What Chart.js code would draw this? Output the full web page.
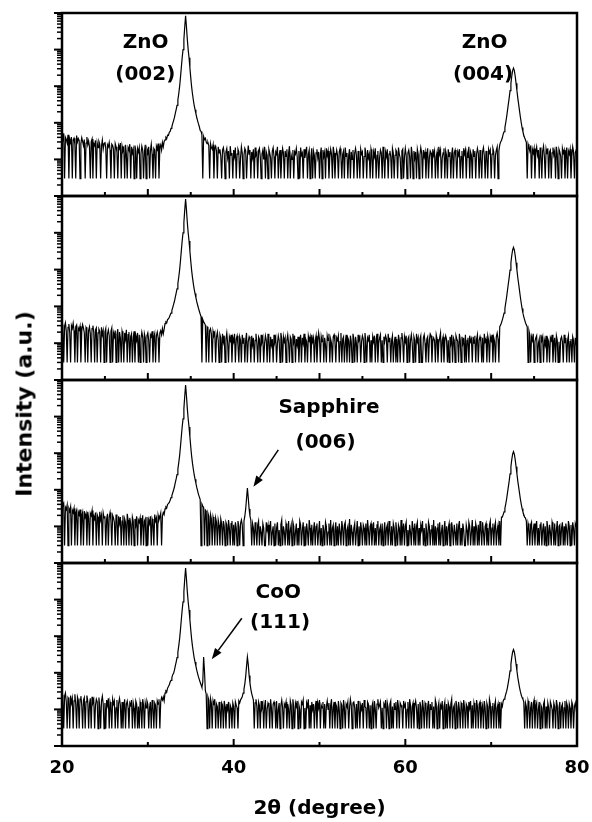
<!DOCTYPE html>
<html>
<head>
<meta charset="utf-8">
<script src="https://cdn.jsdelivr.net/npm/chart.js@4.4.0/dist/chart.umd.min.js"></script>
<style>
    body { margin: 0; background: #fff; }
    #figure { position: relative; width: 592px; height: 822px; overflow: hidden; }
    #figure canvas { position: absolute; left: 0; display: block; }
    .ytitle {
        position: absolute; left: 24px; top: 404px;
        transform: translate(-50%, -50%) rotate(-90deg);
        font: bold 22px "DejaVu Sans", sans-serif; color: #000; white-space: nowrap;
    }
</style>
</head>
<body>
<div id="figure">
    <canvas id="panel1"></canvas>
    <canvas id="panel2"></canvas>
    <canvas id="panel3"></canvas>
    <canvas id="panel4"></canvas>
    <div class="ytitle">Intensity (a.u.)</div>
</div>
<script>
// scan grid: 20..80 deg, 0.1 deg step
const ANGLE_START = 20, ANGLE_STEP = 0.1;

// counts, one row = 1 degree (x.0 .. x.9)
const intensity1 = [
    44, 31, 52, 3, 40, 35, 28, 47, 3, 36,
    29, 41, 3, 34, 38, 26, 3, 45, 30, 37,
    33, 3, 27, 39, 31, 24, 35, 3, 28, 41,
    25, 32, 22, 3, 30, 36, 3, 27, 24, 33,
    3, 28, 21, 31, 26, 3, 23, 34, 19, 27,
    30, 20, 3, 25, 22, 29, 18, 3, 26, 24,
    19, 3, 27, 22, 16, 3, 24, 20, 28, 3,
    23, 17, 20, 3, 25, 14, 3, 21, 18, 26,
    3, 22, 15, 19, 3, 24, 17, 3, 20, 16,
    21, 3, 14, 23, 18, 3, 16, 25, 3, 19,
    15, 22, 3, 17, 26, 14, 3, 20, 18, 3,
    23, 19, 27, 3, 21, 25, 18, 29, 22, 31,
    34, 40, 37, 46, 45, 55, 58, 70, 78, 96,
    115, 140, 180, 230, 300, 420, 620, 970, 1720, 3220,
    6000, 10000, 19000, 42000, 84000, 42000, 19000, 10000, 6000, 3200,
    1720, 970, 620, 420, 300, 228, 178, 140, 113, 93,
    78, 62, 58, 47, 3, 42, 35, 38, 30, 27,
    29, 24, 3, 27, 21, 19, 25, 3, 20, 23,
    17, 3, 22, 15, 19, 12, 3, 18, 21, 14,
    3, 16, 20, 11, 17, 3, 23, 13, 15, 3,
    18, 12, 21, 3, 14, 19, 16, 3, 11, 22,
    15, 3, 13, 20, 17, 3, 12, 24, 14, 18,
    3, 16, 11, 19, 3, 21, 13, 15, 3, 17,
    20, 12, 3, 14, 18, 10, 22, 3, 16, 13,
    3, 19, 15, 11, 3, 17, 21, 12, 3, 16,
    14, 22, 3, 13, 18, 3, 11, 20, 15, 3,
    17, 12, 19, 3, 15, 23, 3, 13, 10, 18,
    3, 16, 14, 20, 12, 3, 17, 3, 21, 13,
    15, 3, 19, 11, 16, 22, 3, 14, 18, 3,
    12, 20, 3, 17, 13, 3, 15, 19, 11, 16,
    3, 14, 21, 3, 18, 12, 16, 3, 20, 13,
    17, 3, 11, 19, 14, 3, 22, 15, 3, 12,
    18, 13, 3, 16, 20, 11, 3, 14, 17, 3,
    21, 12, 15, 3, 13, 19, 3, 16, 10, 18,
    3, 15, 20, 13, 3, 17, 12, 3, 19, 14,
    16, 3, 12, 21, 15, 3, 18, 11, 14, 3,
    19, 14, 3, 16, 12, 20, 3, 13, 17, 3,
    11, 18, 15, 3, 22, 13, 3, 16, 12, 19,
    3, 14, 17, 12, 3, 20, 15, 3, 13, 18,
    16, 3, 21, 14, 11, 3, 17, 19, 3, 12,
    20, 13, 3, 15, 18, 12, 3, 22, 14, 3,
    17, 11, 16, 3, 19, 14, 3, 13, 21, 15,
    3, 18, 12, 16, 3, 14, 20, 3, 11, 17,
    15, 3, 19, 13, 17, 3, 12, 16, 3, 22,
    14, 18, 3, 11, 15, 20, 3, 17, 13, 3,
    19, 12, 16, 3, 14, 21, 3, 15, 18, 11,
    3, 16, 13, 19, 3, 12, 17, 3, 20, 14,
    18, 3, 15, 11, 22, 3, 16, 13, 3, 19,
    12, 17, 3, 14, 20, 15, 3, 18, 11, 3,
    16, 21, 13, 3, 17, 12, 3, 19, 15, 18,
    3, 14, 20, 16, 3, 13, 18, 22, 3, 17,
    25, 30, 33, 39, 49, 57, 74, 102, 145, 215,
    325, 480, 760, 1195, 1875, 2655, 3115, 2655, 1875, 1195,
    760, 480, 325, 215, 145, 102, 74, 57, 46, 39,
    34, 29, 3, 26, 21, 17, 24, 3, 19, 15,
    20, 3, 16, 22, 13, 18, 3, 21, 15, 3,
    17, 23, 12, 3, 19, 14, 20, 3, 16, 18,
    3, 15, 21, 13, 17, 3, 22, 14, 3, 19,
    16, 12, 3, 20, 15, 18, 3, 13, 21, 3,
    17, 14, 19, 3, 12, 22, 16, 3, 15, 18,
    14
];

const intensity2 = [
    32, 24, 3, 29, 36, 21, 3, 27, 33, 19,
    3, 30, 25, 35, 22, 3, 28, 31, 3, 26,
    23, 29, 3, 21, 32, 26, 19, 3, 27, 24,
    3, 22, 28, 18, 3, 25, 30, 20, 3, 23,
    26, 3, 19, 24, 21, 3, 27, 17, 22, 3,
    20, 25, 3, 18, 23, 16, 3, 21, 26, 3,
    19, 15, 22, 3, 17, 24, 3, 20, 14, 3,
    21, 16, 3, 19, 13, 23, 3, 17, 20, 3,
    15, 18, 3, 14, 21, 3, 16, 12, 19, 3,
    17, 3, 13, 20, 15, 3, 18, 14, 3, 16,
    19, 12, 3, 17, 15, 21, 3, 14, 18, 3,
    16, 20, 14, 3, 19, 22, 17, 25, 18, 24,
    34, 38, 36, 44, 46, 51, 58, 66, 78, 93,
    113, 138, 178, 228, 298, 418, 618, 968, 1718, 3218,
    6000, 10000, 19000, 42000, 83000, 42000, 19000, 10000, 6000, 3200,
    1715, 965, 615, 415, 295, 224, 174, 134, 109, 89,
    74, 62, 53, 3, 44, 38, 35, 31, 3, 28,
    26, 3, 22, 25, 18, 3, 21, 16, 19, 3,
    15, 20, 12, 3, 17, 14, 3, 18, 11, 16,
    3, 13, 19, 10, 3, 15, 12, 17, 3, 14,
    11, 18, 3, 13, 16, 9, 3, 15, 12, 3,
    17, 10, 14, 3, 12, 19, 3, 11, 15, 13,
    3, 16, 9, 14, 3, 12, 18, 10, 3, 15,
    13, 3, 17, 11, 14, 3, 10, 16, 12, 3,
    18, 12, 3, 15, 9, 13, 3, 17, 11, 14,
    3, 10, 16, 12, 3, 19, 13, 3, 15, 11,
    14, 3, 12, 17, 10, 3, 15, 13, 3, 18,
    11, 16, 3, 13, 9, 15, 3, 12, 17, 3,
    14, 10, 18, 3, 13, 11, 3, 16, 12, 15,
    3, 17, 11, 14, 3, 12, 16, 3, 10, 19,
    13, 3, 15, 11, 17, 3, 14, 9, 3, 16,
    12, 18, 3, 13, 10, 3, 15, 17, 11, 3,
    14, 12, 16, 3, 11, 19, 3, 13, 15, 3,
    10, 17, 3, 14, 12, 3, 16, 11, 3, 18,
    13, 3, 15, 10, 3, 17, 12, 14, 3, 11,
    16, 13, 3, 19, 11, 3, 14, 12, 17, 3,
    12, 3, 15, 11, 16, 3, 13, 18, 3, 10,
    14, 17, 3, 12, 3, 15, 11, 16, 13, 3,
    18, 11, 14, 3, 12, 16, 3, 10, 15, 3,
    13, 3, 17, 12, 3, 14, 19, 11, 3, 15,
    11, 16, 3, 13, 15, 3, 12, 17, 10, 3,
    15, 12, 3, 18, 11, 14, 3, 13, 16, 3,
    3, 14, 17, 10, 3, 13, 15, 3, 12, 18,
    16, 3, 11, 14, 12, 3, 17, 13, 3, 10,
    14, 19, 3, 12, 15, 3, 11, 16, 13, 3,
    12, 3, 15, 10, 17, 3, 14, 12, 3, 16,
    13, 11, 3, 18, 12, 3, 15, 10, 14, 3,
    17, 3, 12, 14, 3, 16, 11, 13, 3, 15,
    10, 16, 3, 13, 17, 3, 12, 15, 11, 3,
    14, 3, 18, 11, 13, 3, 16, 12, 3, 15,
    12, 17, 3, 14, 11, 3, 15, 19, 13, 3,
    28, 31, 36, 43, 52, 66, 88, 124, 180, 272,
    412, 612, 972, 1532, 2412, 3412, 4012, 3412, 2412, 1532,
    972, 612, 412, 272, 180, 124, 88, 66, 52, 43,
    36, 31, 28, 3, 22, 17, 3, 15, 12, 18,
    3, 11, 14, 16, 3, 10, 13, 3, 17, 12,
    15, 3, 12, 9, 16, 3, 13, 11, 3, 14,
    12, 17, 3, 10, 14, 3, 16, 12, 3, 11,
    3, 13, 15, 11, 3, 17, 10, 14, 3, 12,
    16, 3, 11, 13, 3, 15, 12, 3, 14, 10,
    12
];

const intensity3 = [
    48, 36, 41, 3, 33, 29, 38, 3, 31, 26,
    34, 3, 28, 24, 31, 3, 22, 27, 3, 25,
    21, 29, 3, 19, 24, 3, 26, 18, 22, 3,
    25, 17, 3, 23, 20, 27, 3, 19, 16, 24,
    3, 21, 18, 3, 25, 15, 20, 3, 23, 17,
    19, 3, 16, 22, 3, 18, 24, 14, 3, 20,
    17, 13, 3, 21, 15, 3, 19, 12, 18, 3,
    14, 20, 3, 16, 13, 3, 22, 15, 3, 17,
    12, 3, 18, 14, 3, 16, 11, 19, 3, 15,
    13, 17, 3, 12, 20, 3, 14, 16, 3, 18,
    3, 15, 12, 19, 3, 16, 13, 3, 21, 14,
    17, 3, 20, 15, 18, 23, 3, 19, 24, 21,
    30, 34, 32, 40, 42, 45, 52, 61, 70, 83,
    99, 121, 156, 198, 261, 366, 546, 846, 1496, 2816,
    5200, 8700, 16500, 36500, 73000, 36500, 16500, 8700, 5200, 2800,
    1495, 845, 535, 365, 258, 195, 151, 116, 93, 75,
    64, 54, 3, 41, 36, 33, 3, 28, 26, 3,
    23, 19, 3, 21, 16, 3, 18, 14, 3, 17,
    13, 3, 15, 11, 3, 16, 12, 3, 14, 10,
    3, 13, 11, 3, 15, 9, 3, 12, 14, 3,
    11, 3, 13, 9, 3, 14, 10, 3, 12, 15,
    11, 3, 14, 19, 30, 58, 112, 60, 30, 19,
    15, 3, 12, 9, 3, 13, 8, 3, 11, 14,
    3, 10, 7, 3, 12, 9, 3, 3, 13, 8,
    11, 3, 9, 14, 3, 7, 10, 3, 12, 3,
    9, 13, 3, 8, 3, 11, 15, 3, 10, 7,
    3, 12, 9, 3, 14, 3, 8, 11, 3, 13,
    10, 3, 7, 12, 3, 9, 3, 14, 11, 3,
    8, 13, 3, 10, 3, 12, 7, 3, 15, 9,
    3, 11, 3, 8, 13, 3, 10, 12, 3, 7,
    14, 3, 9, 3, 11, 8, 3, 13, 10, 3,
    7, 12, 3, 15, 3, 9, 11, 3, 8, 13,
    3, 10, 3, 12, 7, 3, 14, 9, 3, 11,
    13, 3, 8, 10, 3, 16, 3, 11, 7, 3,
    9, 12, 3, 7, 14, 3, 10, 3, 13, 8,
    3, 11, 9, 3, 12, 3, 15, 8, 3, 10,
    12, 3, 7, 13, 3, 9, 3, 11, 14, 3,
    8, 10, 3, 12, 3, 7, 13, 3, 9, 11,
    3, 14, 8, 3, 10, 3, 12, 9, 3, 13,
    7, 3, 11, 9, 3, 15, 3, 8, 12, 3,
    10, 13, 3, 8, 3, 11, 7, 3, 14, 9,
    3, 12, 3, 10, 13, 3, 9, 3, 11, 8,
    14, 3, 9, 3, 12, 7, 3, 13, 10, 3,
    8, 11, 3, 15, 3, 10, 3, 9, 12, 3,
    13, 3, 7, 11, 3, 8, 14, 3, 10, 3,
    9, 12, 3, 3, 13, 8, 3, 11, 7, 3,
    12, 3, 10, 14, 3, 9, 3, 12, 8, 3,
    3, 11, 8, 3, 13, 10, 3, 7, 15, 3,
    10, 3, 12, 9, 3, 11, 3, 14, 8, 3,
    13, 7, 3, 10, 12, 3, 9, 3, 11, 14,
    3, 9, 12, 3, 10, 13, 3, 8, 11, 3,
    14, 3, 18, 18, 21, 25, 31, 41, 56, 82,
    120, 175, 274, 428, 670, 945, 1110, 945, 670, 428,
    274, 175, 120, 82, 56, 41, 31, 25, 21, 18,
    17, 14, 3, 12, 9, 3, 11, 13, 3, 8,
    12, 3, 10, 14, 3, 9, 3, 11, 13, 3,
    8, 12, 3, 10, 3, 14, 9, 3, 11, 7,
    3, 13, 10, 3, 12, 3, 8, 14, 3, 10,
    11, 3, 9, 13, 3, 10, 3, 12, 8, 3,
    14, 10, 3, 11, 3, 13, 9, 3, 12, 10,
    10
];

const intensity4 = [
    25, 18, 3, 23, 28, 16, 3, 21, 19, 3,
    24, 15, 20, 3, 17, 26, 14, 3, 22, 18,
    3, 19, 23, 13, 3, 18, 21, 3, 16, 24,
    17, 3, 14, 20, 3, 22, 15, 18, 3, 13,
    19, 16, 3, 21, 12, 3, 17, 23, 14, 3,
    15, 3, 18, 13, 20, 3, 16, 12, 3, 19,
    14, 17, 3, 11, 18, 3, 15, 20, 13, 3,
    16, 3, 12, 19, 3, 14, 17, 11, 3, 15,
    13, 18, 3, 15, 11, 3, 17, 14, 3, 12,
    3, 16, 12, 3, 19, 13, 3, 15, 11, 17,
    14, 3, 11, 16, 3, 18, 12, 3, 15, 13,
    3, 17, 14, 19, 3, 16, 21, 18, 22, 17,
    28, 32, 30, 38, 42, 47, 56, 62, 74, 89,
    97, 119, 154, 196, 259, 364, 544, 844, 1494, 2814,
    5200, 8700, 16500, 36500, 73000, 36500, 16500, 8700, 5200, 2800,
    1494, 844, 534, 364, 257, 196, 152, 118, 95, 77,
    65, 55, 47, 40, 55, 270, 110, 33, 26, 3,
    22, 18, 3, 20, 15, 3, 17, 13, 19, 3,
    14, 12, 3, 16, 11, 3, 15, 13, 3, 17,
    12, 3, 14, 10, 16, 3, 13, 11, 3, 15,
    12, 3, 16, 13, 11, 3, 17, 15, 18, 20,
    22, 28, 36, 50, 80, 150, 270, 170, 85, 52,
    36, 27, 22, 18, 3, 15, 19, 12, 3, 16,
    13, 3, 17, 11, 14, 3, 12, 18, 3, 10,
    15, 13, 3, 19, 11, 3, 14, 16, 12, 3,
    17, 3, 10, 15, 3, 13, 18, 11, 3, 14,
    12, 16, 3, 14, 10, 3, 17, 13, 3, 19,
    11, 3, 15, 12, 17, 3, 13, 10, 3, 16,
    14, 18, 3, 11, 3, 15, 12, 19, 3, 13,
    3, 16, 10, 14, 3, 12, 17, 3, 15, 11,
    18, 3, 13, 11, 16, 3, 14, 3, 12, 17,
    10, 15, 3, 13, 19, 3, 11, 16, 3, 14,
    12, 3, 17, 10, 3, 15, 13, 3, 18, 11,
    3, 14, 12, 16, 3, 11, 19, 13, 3, 15,
    16, 11, 3, 14, 3, 17, 12, 3, 13, 10,
    15, 3, 18, 12, 11, 3, 16, 14, 3, 13,
    3, 12, 15, 3, 17, 10, 3, 14, 19, 11,
    13, 16, 3, 11, 3, 14, 12, 18, 3, 15,
    11, 3, 14, 17, 3, 12, 3, 15, 10, 16,
    3, 18, 12, 3, 15, 13, 11, 3, 17, 12,
    14, 3, 10, 16, 3, 19, 13, 3, 12, 15,
    3, 13, 17, 11, 3, 14, 3, 16, 12, 3,
    18, 11, 3, 15, 13, 3, 12, 17, 3, 14,
    10, 16, 3, 12, 3, 18, 14, 3, 11, 15,
    3, 13, 11, 17, 3, 12, 16, 3, 14, 3,
    15, 12, 3, 14, 19, 3, 11, 13, 3, 17,
    12, 3, 16, 10, 3, 15, 13, 3, 18, 11,
    3, 14, 12, 3, 16, 11, 17, 3, 13, 3,
    15, 11, 3, 18, 12, 3, 14, 16, 3, 10,
    13, 3, 17, 11, 3, 15, 12, 3, 19, 14,
    3, 12, 15, 3, 13, 17, 3, 11, 14, 3,
    16, 3, 14, 12, 17, 19, 21, 26, 31, 40,
    55, 76, 113, 173, 265, 370, 433, 370, 265, 173,
    114, 76, 55, 40, 31, 25, 21, 19, 16, 3,
    15, 12, 3, 17, 13, 3, 11, 16, 3, 14,
    18, 3, 12, 15, 3, 10, 16, 3, 13, 11,
    3, 14, 17, 3, 12, 3, 15, 11, 3, 16,
    13, 10, 3, 15, 12, 3, 18, 13, 3, 11,
    16, 3, 12, 14, 3, 11, 17, 3, 15, 12,
    3, 14, 11, 3, 16, 13, 3, 12, 15, 10,
    13
];

const xLabelTicks = [20, 40, 60, 80];
const upperTicks = [25, 30, 35, 40, 45, 50, 55, 60, 65, 70, 75];
const upperMajor = [30, 40, 50, 60, 70];
const bottomTicks = [30, 40, 50, 60, 70];
const bottomMajor = [40, 60];
const yDecades = [1, 10, 100, 1000, 10000, 100000];

const angles = intensity1.map((_, i) => +(ANGLE_START + i * ANGLE_STEP).toFixed(1));

const FONT = '"DejaVu Sans", sans-serif';

const panels = [
    { id: 'panel1', counts: intensity1, top: 13, bottom: 196,
      notes: [
          { text: 'ZnO', angle: 29.75, level: 15000 },
          { text: '(002)', angle: 29.7, level: 2000 },
          { text: 'ZnO', angle: 69.25, level: 15000 },
          { text: '(004)', angle: 69.05, level: 2000 }
      ], arrows: [] },
    { id: 'panel2', counts: intensity2, top: 196, bottom: 380, notes: [], arrows: [] },
    { id: 'panel3', counts: intensity3, top: 380, bottom: 563,
      notes: [
          { text: 'Sapphire', angle: 51.1, level: 17000 },
          { text: '(006)', angle: 50.7, level: 1950 }
      ],
      arrows: [{ from: [45.2, 1230], to: [42.3, 121] }] },
    { id: 'panel4', counts: intensity4, top: 563, bottom: 746,
      notes: [
          { text: 'CoO', angle: 45.2, level: 15000 },
          { text: '(111)', angle: 45.4, level: 2350 }
      ],
      arrows: [{ from: [40.95, 3090], to: [37.45, 234] }], isBottom: true }
];

function strokeLine(ctx, x1, y1, x2, y2, width) {
    ctx.lineWidth = width;
    ctx.beginPath();
    ctx.moveTo(x1, y1);
    ctx.lineTo(x2, y2);
    ctx.stroke();
}

function framePlugin(panel) {
    return {
        id: 'panelFrame',
        afterDatasetsDraw(chart) {
            const {ctx, chartArea: {left, right, top, bottom}, scales: {x, y}} = chart;
            ctx.save();
            ctx.strokeStyle = '#000';
            ctx.fillStyle = '#000';
            // log ticks on the left, pointing out
            yDecades.forEach(d => {
                const py = y.getPixelForValue(d);
                strokeLine(ctx, left, py, left - 8, py, 2);
                if (d < 100000) {
                    for (let m = 2; m <= 9; m++) {
                        const my = y.getPixelForValue(d * m);
                        strokeLine(ctx, left, my, left - 5, my, 1.5);
                    }
                }
            });
            // 2theta ticks on the bottom edge, pointing in
            const ticks = panel.isBottom ? bottomTicks : upperTicks;
            const major = panel.isBottom ? bottomMajor : upperMajor;
            ticks.forEach(v => {
                const px = x.getPixelForValue(v);
                strokeLine(ctx, px, bottom, px, bottom - (major.includes(v) ? 7 : 4), 2);
            });
            ctx.lineWidth = 2.5;
            ctx.strokeRect(left, top, right - left, bottom - top);

            ctx.font = 'bold 20px ' + FONT;
            ctx.textAlign = 'center';
            ctx.textBaseline = 'middle';
            panel.notes.forEach(n => {
                ctx.fillText(n.text, x.getPixelForValue(n.angle), y.getPixelForValue(n.level));
            });
            panel.arrows.forEach(a => {
                const x1 = x.getPixelForValue(a.from[0]), y1 = y.getPixelForValue(a.from[1]),
                      x2 = x.getPixelForValue(a.to[0]), y2 = y.getPixelForValue(a.to[1]);
                const ang = Math.atan2(y2 - y1, x2 - x1);
                const hl = 11, hw = 4;
                const bx = x2 - hl * Math.cos(ang), by = y2 - hl * Math.sin(ang);
                strokeLine(ctx, x1, y1, bx, by, 1.5);
                ctx.beginPath();
                ctx.moveTo(x2, y2);
                ctx.lineTo(bx + hw * Math.sin(ang), by - hw * Math.cos(ang));
                ctx.lineTo(bx - hw * Math.sin(ang), by + hw * Math.cos(ang));
                ctx.closePath();
                ctx.fill();
            });
            ctx.restore();
        }
    };
}

function buildPanel(panel) {
    const canvas = document.getElementById(panel.id);
    const padTop = 10;
    const padBottom = panel.isBottom ? 0 : 10;
    const axisHeight = panel.isBottom ? 822 - panel.bottom : 0;
    canvas.width = 592;
    canvas.height = panel.bottom - panel.top + padTop + padBottom + axisHeight;
    canvas.style.top = (panel.top - padTop) + 'px';

    new Chart(canvas, {
        type: 'line',
        data: {
            datasets: [{
                data: panel.counts.map((c, i) => ({x: angles[i], y: c})),
                borderColor: '#000',
                borderWidth: 1.2,
                pointRadius: 0,
                tension: 0
            }]
        },
        options: {
            responsive: false,
            animation: false,
            events: [],
            layout: { padding: { left: 62, right: 15, top: padTop, bottom: padBottom } },
            plugins: { legend: { display: false }, tooltip: { enabled: false } },
            scales: {
                x: {
                    type: 'linear', min: 20, max: 80,
                    display: !!panel.isBottom,
                    grid: { display: false, drawTicks: false },
                    border: { display: false },
                    afterBuildTicks: s => { s.ticks = xLabelTicks.map(v => ({value: v})); },
                    ticks: { color: '#000', font: { family: FONT, size: 18, weight: 'bold' }, padding: 12, maxRotation: 0 },
                    title: {
                        display: true, text: '2θ (degree)', color: '#000',
                        font: { family: FONT, size: 20, weight: 'bold' },
                        padding: { top: 0, bottom: 1 }
                    },
                    afterFit: s => {
                        s.height = axisHeight;
                        s.paddingLeft = 0;
                        s.paddingRight = 0;
                    }
                },
                y: {
                    type: 'logarithmic', min: 1, max: 100000,
                    display: false
                }
            }
        },
        plugins: [framePlugin(panel)]
    });
}

panels.forEach(buildPanel);
</script>
</body>
</html>
